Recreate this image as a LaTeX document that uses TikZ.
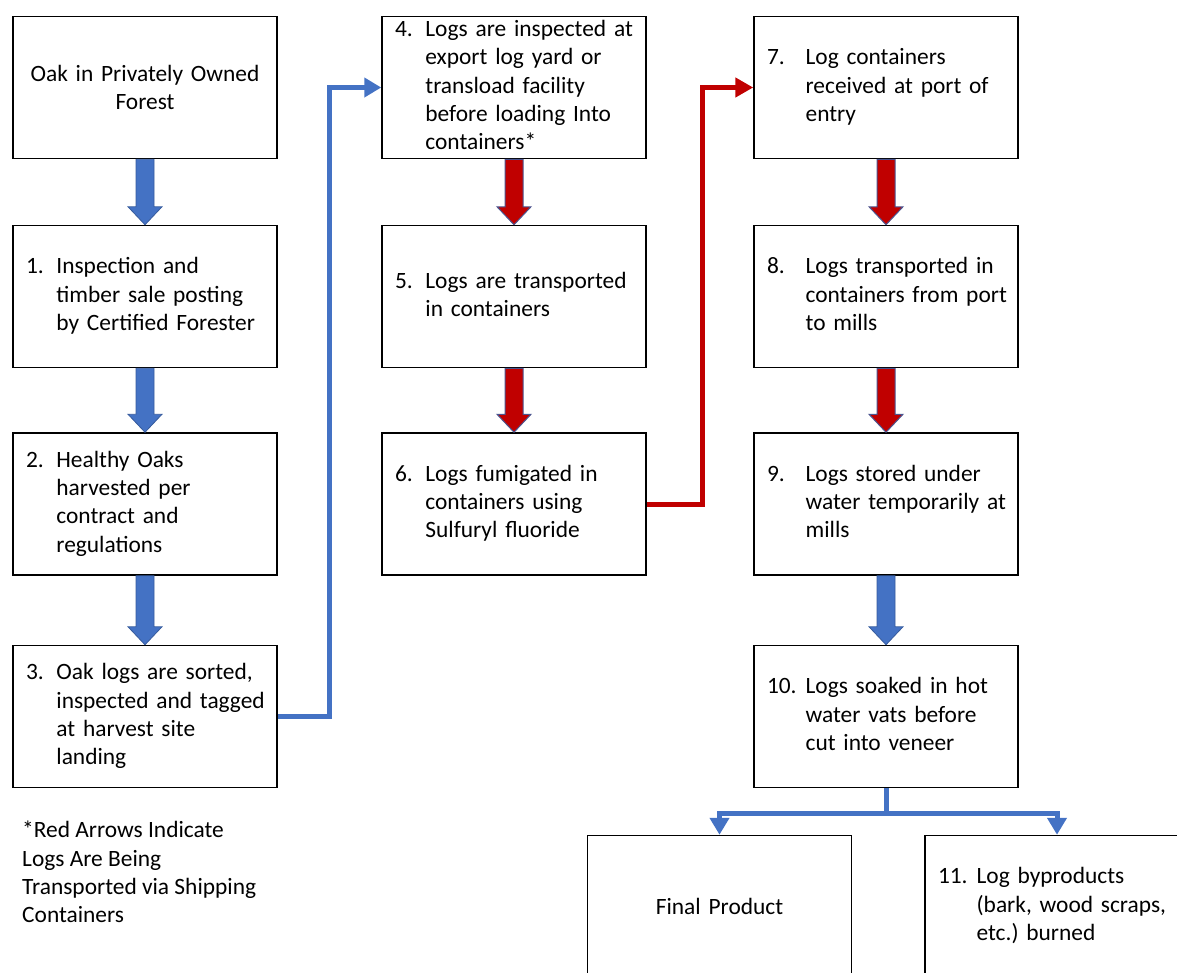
\documentclass[tikz,border=0pt]{standalone}
\usepackage{fontspec}
\setmainfont{Carlito}
\usetikzlibrary{calc,arrows.meta}
\frenchspacing

\definecolor{flowblue}{HTML}{4472C4}
\definecolor{flowred}{HTML}{C00000}
\definecolor{flowedge}{HTML}{4A5590}

% numbered entry: number, then the lines stacked beside it
\newcommand{\stepitem}[3][1.3em]{\makebox[#1][l]{#2}\begin{tabular}[t]{@{}l@{}}#3\end{tabular}}
% fat arrow from the bottom of #1 to the top of #2
\newcommand{\blockarrow}[3]{%
  \path[#3] let \p1=(#1.south), \p2=(#2.north) in
    (\x1-9,\y1) -- (\x1+9,\y1) -- (\x1+9,\y2+18) -- (\x1+17,\y2+18)
    -- (\x1,\y2) -- (\x1-17,\y2+18) -- (\x1-9,\y2+18) -- cycle;}

\begin{document}
\begin{tikzpicture}[
  font=\fontsize{23.4}{28.3}\selectfont,
  box/.style={draw=black, line width=1.5pt, minimum width=264pt, minimum height=142pt,
              text width=238pt, inner xsep=13pt, align=left},
  bluearrow/.style={fill=flowblue, draw=flowblue!80!black, line width=0.8pt},
  redarrow/.style={fill=flowred, draw=flowedge, line width=1pt},
  bluelink/.style={draw=flowblue, line width=5pt, -{Triangle[length=17pt,width=19pt]}},
  redlink/.style={draw=flowred, line width=5pt, -{Triangle[length=18pt,width=19pt]}},
  x=1pt, y=1pt
]
\useasboundingbox (0,0) rectangle (1177,-972);
\clip (0,0) rectangle (1177,-972);

% ---- first column ----
\node[box, align=center] (b0) at (145,-87.5) {Oak in Privately Owned\\Forest};
\node[box] (b1) at (145,-296.5) {\stepitem{1.}{Inspection and\\timber sale posting\\by Certified Forester}};
\node[box] (b2) at (145,-504) {\stepitem{2.}{Healthy Oaks\\harvested per\\contract and\\regulations}};
\node[box] (b3) at (145,-716.5) {\stepitem{3.}{Oak logs are sorted,\\inspected and tagged\\at harvest site\\landing}};

% ---- second column ----
\node[box, inner ysep=0pt] (b4) at (514,-87.5) {\stepitem{4.}{Logs are inspected at\\export log yard or\\transload facility\\before loading Into\\containers*}};
\node[box] (b5) at (514,-296.5) {\stepitem{5.}{Logs are transported\\in containers}};
\node[box] (b6) at (514,-504) {\stepitem{6.}{Logs fumigated in\\containers using\\Sulfuryl fluoride}};

% ---- third column ----
\node[box] (b7) at (886,-87.5) {\stepitem[1.65em]{7.}{Log containers\\received at port of\\entry}};
\node[box] (b8) at (886,-296.5) {\stepitem[1.65em]{8.}{Logs transported in\\containers from port\\to mills}};
\node[box] (b9) at (886,-504) {\stepitem[1.65em]{9.}{Logs stored under\\water temporarily at\\mills}};
\node[box] (b10) at (886,-716.5) {\stepitem[1.65em]{10.}{Logs soaked in hot\\water vats before\\cut into veneer}};

% ---- end of the chain ----
\node[box, align=center] (final) at (719.5,-906.5) {Final Product};
\node[box] (b11) at (1057,-906.5) {\stepitem[1.65em]{11.}{Log byproducts\\(bark, wood scraps,\\etc.) burned}};

\node[anchor=north west, align=left, inner sep=0pt] (note) at (22,-821)
  {*Red Arrows Indicate\\Logs Are Being\\Transported via Shipping\\Containers};

% ---- fat arrows ----
\blockarrow{b0}{b1}{bluearrow}
\blockarrow{b1}{b2}{bluearrow}
\blockarrow{b2}{b3}{bluearrow}
\blockarrow{b4}{b5}{redarrow}
\blockarrow{b5}{b6}{redarrow}
\blockarrow{b7}{b8}{redarrow}
\blockarrow{b8}{b9}{redarrow}
\blockarrow{b9}{b10}{bluearrow}

% ---- links between columns ----
\draw[bluelink] (b3.east) -- ++(52,0) |- (b4.west);
\draw[redlink] (b6.east) -- ++(56,0) |- (b7.west);
\draw[bluelink] (b10.south) -- ++(0,-25) -| (final.north);
\draw[bluelink] (b10.south) -- ++(0,-25) -| (b11.north);
\end{tikzpicture}
\end{document}
